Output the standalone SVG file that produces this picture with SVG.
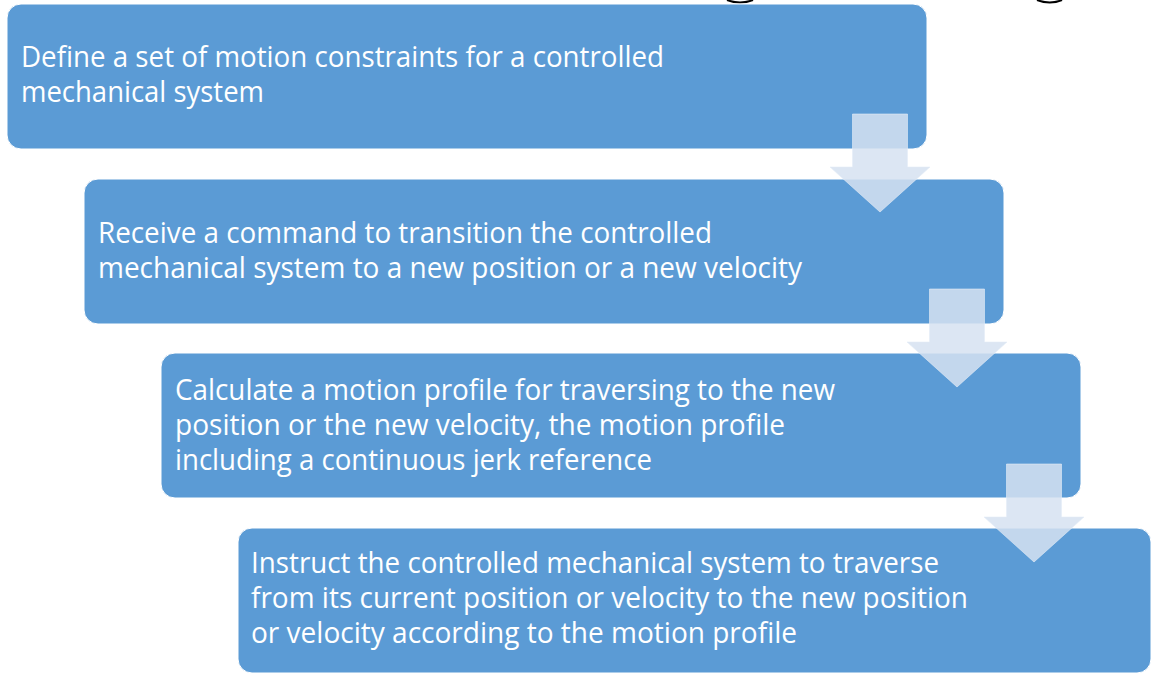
<svg xmlns="http://www.w3.org/2000/svg" width="1151" height="676" viewBox="0 0 1151 676">
<style>
.box{fill:#5b9bd5;stroke:#ffffff;stroke-width:1}
.t{font-family:"Open Sans","Liberation Sans",sans-serif;font-size:28.5px;fill:#ffffff}
.arr{fill:#d6e2f1;fill-opacity:0.85;stroke:#e4ecf6;stroke-width:1;stroke-opacity:0.6}
.arc{fill:none;stroke:#000000;stroke-width:2}
</style>
<rect width="1151" height="676" fill="#ffffff"/>
<path class="arc" d="M727,0 Q740,5 753,0"/>
<path class="arc" d="M1037,0 Q1050,5 1062,0"/>
<g id="node1">
<rect class="box" x="7" y="4" width="920" height="145" rx="14"/>
<text class="t" x="21" y="67" textLength="643" lengthAdjust="spacingAndGlyphs">Define a set of motion constraints for a controlled</text>
<text class="t" x="21" y="102" textLength="243" lengthAdjust="spacingAndGlyphs">mechanical system</text>
</g>
<g id="node2">
<rect class="box" x="84" y="179" width="920" height="145" rx="14"/>
<text class="t" x="98" y="243" textLength="614" lengthAdjust="spacingAndGlyphs">Receive a command to transition the controlled</text>
<text class="t" x="98" y="278" textLength="704" lengthAdjust="spacingAndGlyphs">mechanical system to a new position or a new velocity</text>
</g>
<g id="node3">
<rect class="box" x="161" y="353" width="920" height="145" rx="14"/>
<text class="t" x="175" y="400" textLength="660" lengthAdjust="spacingAndGlyphs">Calculate a motion profile for traversing to the new</text>
<text class="t" x="175" y="435" textLength="610" lengthAdjust="spacingAndGlyphs">position or the new velocity, the motion profile</text>
<text class="t" x="175" y="470" textLength="477" lengthAdjust="spacingAndGlyphs">including a continuous jerk reference</text>
</g>
<g id="node4">
<rect class="box" x="238" y="528" width="913" height="145" rx="14"/>
<text class="t" x="251" y="573" textLength="688" lengthAdjust="spacingAndGlyphs">Instruct the controlled mechanical system to traverse</text>
<text class="t" x="251" y="608" textLength="717" lengthAdjust="spacingAndGlyphs">from its current position or velocity to the new position</text>
<text class="t" x="251" y="643" textLength="546" lengthAdjust="spacingAndGlyphs">or velocity according to the motion profile</text>
</g>
<g id="connectors">
<polygon class="arr" points="852.5,114 907.5,114 907.5,167 930,167 880,212 830,167 852.5,167"/>
<polygon class="arr" points="929.5,289 984.5,289 984.5,342 1007,342 957,387 907,342 929.5,342"/>
<polygon class="arr" points="1006.5,464 1061.5,464 1061.5,517 1084,517 1034,562 984,517 1006.5,517"/>
</g>
</svg>
